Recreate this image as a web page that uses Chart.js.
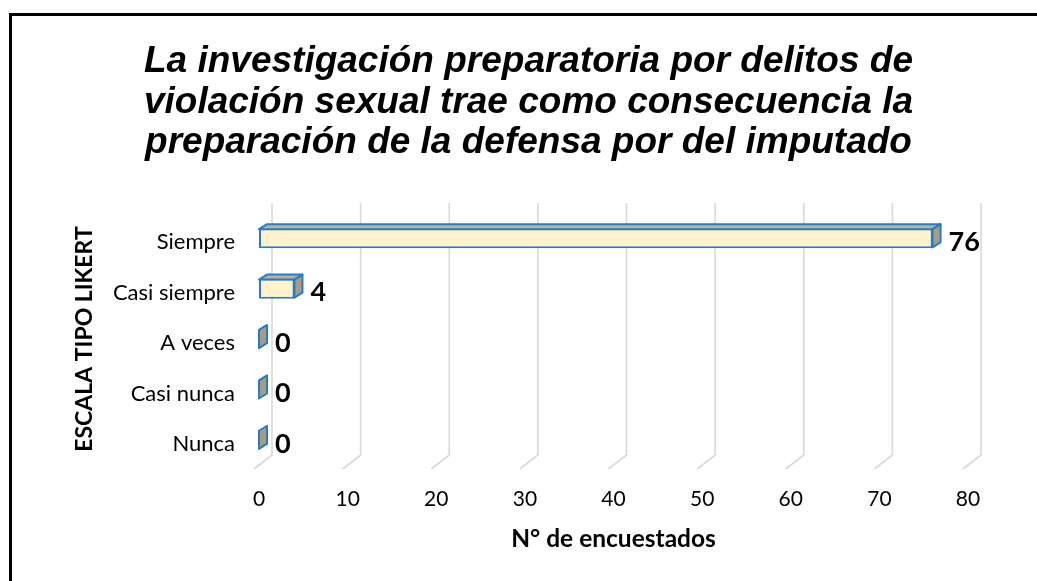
<!DOCTYPE html>
<html>
<head>
<meta charset="utf-8">
<script src="https://cdn.jsdelivr.net/npm/chart.js@4.4.0/dist/chart.umd.min.js"></script>
<style>
html,body{margin:0;padding:0;background:#fff;}
#wrap{width:1037px;height:581px;}
</style>
</head>
<body>
<div id="wrap"><canvas id="c" width="1037" height="581"></canvas></div>
<script>
// ---- data ----
const titleLines = [
  'La investigación preparatoria por delitos de',
  'violación sexual trae como consecuencia la',
  'preparación de la defensa por del imputado'
];
const categories = ['Siempre', 'Casi siempre', 'A veces', 'Casi nunca', 'Nunca'];
const counts = [76, 4, 0, 0, 0];
const xMin = 0, xMax = 80, xStep = 10;
const xAxisTitle = 'N° de encuestados';
const yAxisTitle = 'ESCALA TIPO LIKERT';

// ---- styles ----
const DX = 8, DY = 5;
const FRONT = '#FFF2CC', TOPF = '#BAB29A', SIDE = '#A59E86', EDGE = '#2B7BC3';

const framePlugin = {
  id: 'frame',
  beforeDraw(chart) {
    const c = chart.ctx;
    c.save();
    c.fillStyle = '#fff';
    c.fillRect(0, 0, chart.width, chart.height);
    c.fillStyle = '#000';
    c.fillRect(9, 13, chart.width - 9, 3);
    c.fillRect(9, 13, 3, chart.height - 13);
    c.restore();
  }
};

const gridPlugin = {
  id: 'grid3d',
  beforeDatasetsDraw(chart) {
    const c = chart.ctx, xs = chart.scales.x, ca = chart.chartArea;
    c.save();
    c.strokeStyle = '#D9D9D9';
    c.lineWidth = 1.6;
    xs.ticks.forEach(t => {
      const px = xs.getPixelForValue(t.value);
      c.beginPath();
      c.moveTo(px + 13, ca.top - 10);
      c.lineTo(px + 13, ca.bottom - 10);
      c.lineTo(px - 5, ca.bottom + 4);
      c.stroke();
    });
    c.restore();
  }
};

function poly(c, pts, fill) {
  c.beginPath();
  c.moveTo(pts[0][0], pts[0][1]);
  for (let i = 1; i < pts.length; i++) c.lineTo(pts[i][0], pts[i][1]);
  c.closePath();
  c.fillStyle = fill;
  c.fill();
  c.stroke();
}

const bar3dPlugin = {
  id: 'bar3d',
  afterDatasetsDraw(chart) {
    const c = chart.ctx;
    const meta = chart.getDatasetMeta(0);
    c.save();
    c.strokeStyle = EDGE;
    c.lineWidth = 2;
    c.lineJoin = 'round';
    meta.data.forEach((bar, i) => {
      const x0 = Math.min(bar.base, bar.x), x1 = Math.max(bar.base, bar.x);
      const top = bar.y - bar.height / 2 + 1, bot = bar.y + bar.height / 2 - 1;
      if (x1 - x0 > 0.5) {
        poly(c, [[x0, top], [x0 + DX, top - DY], [x1 + DX, top - DY], [x1, top]], TOPF);
      }
      poly(c, [[x1, top], [x1 + DX, top - DY], [x1 + DX, bot - DY], [x1, bot]], SIDE);
      c.fillStyle = '#000';
      c.font = 'bold 27px Lato';
      c.textAlign = 'left';
      c.textBaseline = 'middle';
      c.fillText(String(counts[i]), x1 + DX + 8, bar.y + 4);
    });
    c.restore();
  }
};

new Chart(document.getElementById('c').getContext('2d'), {
  type: 'bar',
  data: {
    labels: categories,
    datasets: [{
      data: counts,
      backgroundColor: FRONT,
      borderColor: EDGE,
      borderWidth: 2,
      borderSkipped: false,
      barPercentage: 0.4,
      categoryPercentage: 1
    }]
  },
  options: {
    indexAxis: 'y',
    responsive: false,
    animation: false,
    devicePixelRatio: 1,
    layout: { padding: { left: 20, right: 0, top: 0, bottom: 0 } },
    plugins: {
      legend: { display: false },
      tooltip: { enabled: false },
      title: {
        display: true,
        text: titleLines,
        color: '#000',
        font: { family: '"Liberation Sans", Arial, sans-serif', size: 37, style: 'italic', weight: 'bold', lineHeight: 1.095 },
        padding: { top: 41.75, bottom: 49.75 }
      }
    },
    scales: {
      x: {
        type: 'linear',
        min: xMin, max: xMax,
        ticks: { stepSize: xStep, color: '#000', font: { family: 'Lato', size: 21 }, padding: 13.4 },
        grid: { display: false },
        border: { display: false },
        title: {
          display: true, text: xAxisTitle, color: '#000',
          font: { family: 'Lato', size: 24.5, weight: 'bold' },
          padding: { top: 0, bottom: 27.3 }
        },
        afterFit(s) { s.height = 116; }
      },
      y: {
        ticks: { color: '#000', font: { family: 'Lato', size: 22 }, padding: 16, labelOffset: 4 },
        grid: { display: false },
        border: { display: false },
        title: {
          display: true, text: yAxisTitle, color: '#000',
          font: { family: 'Lato', size: 23, weight: 'bold' },
          padding: { top: 51.2, bottom: 0 }
        },
        afterFit(s) { s.width = 239; }
      },
      yR: {
        type: 'linear', axis: 'y', position: 'right', display: true,
        ticks: { display: false }, grid: { display: false }, border: { display: false },
        afterFit(s) { s.width = 69; }
      }
    }
  },
  plugins: [framePlugin, gridPlugin, bar3dPlugin]
});
</script>
</body>
</html>
